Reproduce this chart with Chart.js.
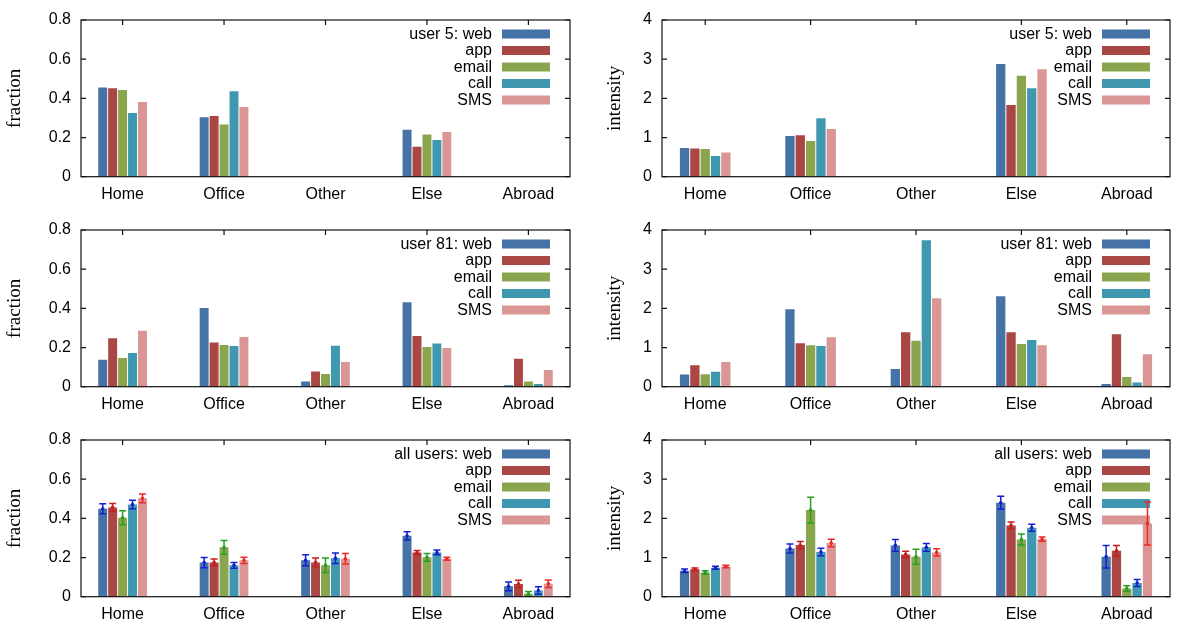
<!DOCTYPE html>
<html>
<head>
<meta charset="utf-8">
<script src="https://cdn.jsdelivr.net/npm/chart.js@4.4.1/dist/chart.umd.min.js"></script>
<style>
  body { margin: 0; background: #fff; }
  #wrap { position: relative; width: 1200px; height: 630px; }
  #wrap canvas { position: absolute; }
</style>
</head>
<body>
<div id="wrap"></div>
<script>
// categories and series
const categories = ['Home', 'Office', 'Other', 'Else', 'Abroad'];
const series = ['web', 'app', 'email', 'call', 'SMS'];
const barColors = ['#4573a7', '#aa4643', '#89a54e', '#3f98b0', '#d99694'];
const errColors = ['#1420d0', '#c81e1e', '#24a024', '#1420d0', '#ee2828'];

// tick labels
const fractionTicks = [0, 0.2, 0.4, 0.6, 0.8];
const intensityTicks = [0, 1, 2, 3, 4];

// one row per series (web, app, email, call, SMS), one value per category
const user5Fraction = [
  [0.456, 0.303, 0, 0.240, 0],
  [0.451, 0.310, 0, 0.153, 0],
  [0.443, 0.266, 0, 0.216, 0],
  [0.325, 0.436, 0, 0.187, 0],
  [0.381, 0.356, 0, 0.228, 0]
];
const user5Intensity = [
  [0.73, 1.04, 0, 2.88, 0],
  [0.72, 1.06, 0, 1.83, 0],
  [0.71, 0.91, 0, 2.58, 0],
  [0.53, 1.49, 0, 2.26, 0],
  [0.62, 1.22, 0, 2.74, 0]
];
const user81Fraction = [
  [0.138, 0.402, 0.026, 0.431, 0.008],
  [0.247, 0.226, 0.078, 0.259, 0.143],
  [0.146, 0.213, 0.065, 0.203, 0.026],
  [0.172, 0.208, 0.209, 0.221, 0.014],
  [0.286, 0.254, 0.126, 0.197, 0.085]
];
const user81Intensity = [
  [0.31, 1.98, 0.45, 2.31, 0.07],
  [0.55, 1.11, 1.39, 1.39, 1.34],
  [0.32, 1.06, 1.17, 1.09, 0.25],
  [0.38, 1.04, 3.74, 1.19, 0.11],
  [0.63, 1.26, 2.26, 1.06, 0.83]
];
const allFraction = [
  [0.449, 0.174, 0.186, 0.311, 0.053],
  [0.456, 0.175, 0.175, 0.226, 0.065],
  [0.403, 0.252, 0.160, 0.201, 0.015],
  [0.471, 0.160, 0.196, 0.226, 0.032],
  [0.502, 0.186, 0.194, 0.194, 0.066]
];
const allFractionErr = [
  [0.026, 0.026, 0.028, 0.021, 0.022],
  [0.020, 0.017, 0.022, 0.010, 0.019],
  [0.036, 0.035, 0.037, 0.020, 0.012],
  [0.022, 0.015, 0.027, 0.012, 0.019],
  [0.022, 0.016, 0.027, 0.008, 0.019]
];
const allIntensity = [
  [0.66, 1.23, 1.31, 2.40, 1.02],
  [0.70, 1.32, 1.08, 1.82, 1.17],
  [0.62, 2.21, 1.02, 1.46, 0.21],
  [0.74, 1.14, 1.26, 1.76, 0.35],
  [0.77, 1.37, 1.13, 1.47, 1.87]
];
const allIntensityErr = [
  [0.045, 0.115, 0.150, 0.166, 0.290],
  [0.030, 0.090, 0.080, 0.085, 0.136],
  [0.045, 0.330, 0.190, 0.140, 0.070],
  [0.040, 0.094, 0.100, 0.090, 0.090],
  [0.030, 0.094, 0.094, 0.055, 0.550]
];

const panels = [
  { row: 0, col: 0, who: 'user 5',    label: 'fraction',  ticks: fractionTicks,  values: user5Fraction },
  { row: 0, col: 1, who: 'user 5',    label: 'intensity', ticks: intensityTicks, values: user5Intensity },
  { row: 1, col: 0, who: 'user 81',   label: 'fraction',  ticks: fractionTicks,  values: user81Fraction },
  { row: 1, col: 1, who: 'user 81',   label: 'intensity', ticks: intensityTicks, values: user81Intensity },
  { row: 2, col: 0, who: 'all users', label: 'fraction',  ticks: fractionTicks,  values: allFraction,  err: allFractionErr },
  { row: 2, col: 1, who: 'all users', label: 'intensity', ticks: intensityTicks, values: allIntensity, err: allIntensityErr }
];

const sansFont = { family: '"Liberation Sans", Arial, sans-serif', size: 16 };

// legend inside the plot (text right-aligned, swatch on the right),
// error bars and the gnuplot-like frame with inward ticks
const framePlugin = {
  id: 'frame',
  beforeDatasetsDraw(chart) {
    const { ctx, chartArea: a } = chart;
    ctx.save();
    ctx.font = '16px "Liberation Sans", Arial, sans-serif';
    ctx.textAlign = 'right';
    ctx.textBaseline = 'middle';
    chart.data.datasets.forEach((ds, i) => {
      const y = a.top + 14 + i * 16.5;
      ctx.fillStyle = '#000';
      ctx.fillText(ds.label, a.right - 78, y + 0.5);
      ctx.fillStyle = ds.backgroundColor;
      ctx.fillRect(a.right - 68, y - 4.5, 48, 9);
    });
    ctx.restore();
  },
  afterDatasetsDraw(chart, args, opts) {
    const { ctx, chartArea: a } = chart;
    const xs = chart.scales.x, ys = chart.scales.y;
    ctx.save();
    if (opts.err) {
      ctx.lineWidth = 1.5;
      opts.err.forEach((errs, d) => {
        const meta = chart.getDatasetMeta(d);
        const vals = chart.data.datasets[d].data;
        ctx.strokeStyle = errColors[d];
        ctx.fillStyle = errColors[d];
        errs.forEach((e, i) => {
          const x = meta.data[i].x;
          const v = vals[i].y;
          const y1 = ys.getPixelForValue(v + e), y0 = ys.getPixelForValue(v - e);
          ctx.beginPath();
          ctx.moveTo(x, y0); ctx.lineTo(x, y1);
          ctx.moveTo(x - 3.5, y0); ctx.lineTo(x + 3.5, y0);
          ctx.moveTo(x - 3.5, y1); ctx.lineTo(x + 3.5, y1);
          ctx.stroke();
          ctx.beginPath();
          ctx.arc(x, ys.getPixelForValue(v), 1.8, 0, Math.PI * 2);
          ctx.fill();
        });
      });
    }
    ctx.strokeStyle = '#111';
    ctx.lineWidth = 1.2;
    ctx.beginPath();
    ys.ticks.forEach(t => {
      const p = ys.getPixelForValue(t.value);
      ctx.moveTo(a.left, p); ctx.lineTo(a.left + 5, p);
      ctx.moveTo(a.right, p); ctx.lineTo(a.right - 5, p);
    });
    xs.ticks.forEach(t => {
      const p = xs.getPixelForValue(t.value);
      ctx.moveTo(p, a.top); ctx.lineTo(p, a.top + 5);
    });
    ctx.stroke();
    ctx.strokeRect(a.left, a.top, a.right - a.left, a.bottom - a.top);
    ctx.restore();
  }
};

const wrap = document.getElementById('wrap');

panels.forEach(p => {
  const canvas = document.createElement('canvas');
  canvas.width = 600;
  canvas.height = 210;
  canvas.style.left = (p.col * 600) + 'px';
  canvas.style.top = (p.row * 210) + 'px';
  wrap.appendChild(canvas);

  const datasets = p.values.map((vals, d) => ({
    label: d === 0 ? p.who + ': ' + series[d] : series[d],
    data: vals.map((v, i) => ({ x: i, y: v })),
    backgroundColor: barColors[d],
    borderWidth: 0,
    barPercentage: 0.9,
    categoryPercentage: 0.49
  }));

  new Chart(canvas, {
    type: 'bar',
    data: { datasets },
    plugins: [framePlugin],
    options: {
      responsive: false,
      animation: false,
      devicePixelRatio: 1,
      events: [],
      layout: { padding: { top: 20, right: 30, left: 0, bottom: 0 } },
      plugins: {
        legend: { display: false },
        tooltip: { enabled: false },
        frame: { err: p.err }
      },
      scales: {
        x: {
          type: 'linear',
          min: -0.41,
          max: 4.41,
          offset: false,
          afterBuildTicks: s => { s.ticks = categories.map((c, i) => ({ value: i })); },
          afterFit: s => { s.height = 33.3; },
          grid: { display: false, drawTicks: false, offset: false },
          border: { display: false },
          ticks: {
            padding: 8,
            color: '#000',
            font: sansFont,
            autoSkip: false,
            maxRotation: 0,
            callback: v => categories[v]
          }
        },
        y: {
          type: 'linear',
          min: p.ticks[0],
          max: p.ticks[p.ticks.length - 1],
          afterBuildTicks: s => { s.ticks = p.ticks.map(v => ({ value: v })); },
          afterFit: s => { s.width = p.col === 0 ? 81 : 62; },
          grid: { display: false, drawTicks: false },
          border: { display: false },
          title: {
            display: true,
            text: p.label,
            color: '#000',
            font: { family: '"Liberation Serif", "Times New Roman", serif', size: 19 }
          },
          ticks: {
            padding: 10,
            color: '#000',
            font: sansFont,
            callback: v => String(v)
          }
        }
      }
    }
  });
});
</script>
</body>
</html>
